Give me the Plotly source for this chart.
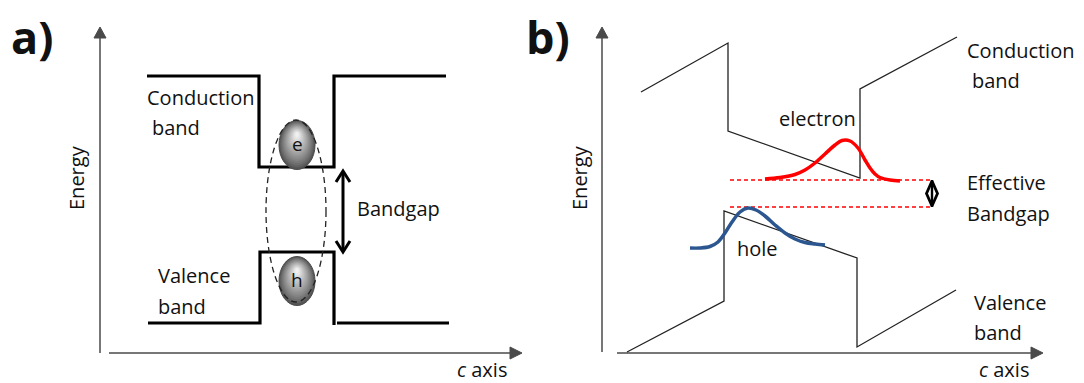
import plotly.graph_objects as go

W, H = 1084, 383
FONT = "Open Sans"

# ---- panel a: square quantum well (drawing units, y grows downward) ----
cb_a_x = [147, 259, 259, 334, 334, 446]
cb_a_y = [76, 76, 167, 167, 76, 76]
vb_a_left_x = [148, 260, 260, 334, 334]
vb_a_left_y = [323, 323, 252, 252, 325]
vb_a_right_x = [337, 449]
vb_a_right_y = [323, 323]

# carriers: centre x, centre y, half-width, half-height, label
carrier_x = [297, 297]
carrier_y = [145, 281]
carrier_rx = [18, 18]
carrier_ry = [24.5, 24.5]
carrier_lbl = ["e", "h"]

# exciton envelope
exc_cx, exc_cy, exc_rx, exc_ry = 296, 211, 30, 91

# bandgap arrow
gap_x = 343
gap_top, gap_bot = 171, 252

# ---- panel b: polarisation-tilted well ----
cb_b_x = [641, 728, 728, 860, 860, 957]
cb_b_y = [92, 43, 131, 178, 89, 37]
vb_b_x = [627, 724, 724, 857, 857, 956]
vb_b_y = [352, 301, 211, 258, 347, 290]

electron_x = [765, 780, 795, 805, 815, 825, 835, 842, 850, 858, 865, 870, 875, 880, 890, 900]
electron_y = [179, 177.5, 174.5, 170, 163, 154, 145, 140.5, 141, 148, 160, 168, 174, 177.5, 180, 181]
hole_x = [690, 700, 710, 718, 725, 732, 740, 748, 756, 765, 775, 785, 795, 805, 815, 825]
hole_y = [248, 248, 246.5, 242, 233, 222, 212, 208, 210, 216, 225, 233, 239, 242.5, 244, 245]

eff_levels = [180, 207]
eff_x = [730, 933]
eff_arrow_x = 932

# axes: (y-axis x, y-axis top tip, y-axis bottom, x-axis y, x-axis start, x-axis tip)
axes = [
    (100, 27, 353, 353, 109, 522),
    (602, 27, 352, 353, 617, 1043),
]

# text labels: (x, y, text, size, bold, anchor)
labels = [
    (10, 36, "a)", 45, True, "left"),
    (525, 36, "b)", 45, True, "left"),
    (146, 97, "Conduction", 20, False, "left"),
    (151, 127, "band", 20, False, "left"),
    (157, 275, "Valence", 20, False, "left"),
    (157, 306, "band", 20, False, "left"),
    (356, 208, "Bandgap", 20, False, "left"),
    (456, 369, "<i>c</i> axis", 20, False, "left"),
    (966, 50, "Conduction", 20, False, "left"),
    (971, 80, "band", 20, False, "left"),
    (778, 118, "electron", 20, False, "left"),
    (736, 248, "hole", 20, False, "left"),
    (966, 182, "Effective", 20, False, "left"),
    (966, 213, "Bandgap", 20, False, "left"),
    (973, 302, "Valence", 20, False, "left"),
    (973, 332, "band", 20, False, "left"),
    (978, 369, "<i>c</i> axis", 20, False, "left"),
]
energy_pos = [(76, 178), (579, 178)]

fig = go.Figure()


def line(x, y, color="black", width=1.3, dash=None, shape="linear"):
    fig.add_trace(go.Scatter(
        x=x, y=y, mode="lines", hoverinfo="skip", showlegend=False,
        line=dict(color=color, width=width, dash=dash, shape=shape),
    ))


def poly(x, y, color):
    fig.add_trace(go.Scatter(
        x=x, y=y, mode="lines", fill="toself", fillcolor=color,
        hoverinfo="skip", showlegend=False, line=dict(color=color, width=1),
    ))


# coordinate axes with arrowheads
AX = "#4a4a4a"
for yx, ytip, ybot, xy, xstart, xtip in axes:
    line([yx, yx], [ybot, ytip + 10], color=AX, width=1.5)
    poly([yx - 6, yx, yx + 6, yx - 6], [ytip + 11, ytip, ytip + 11, ytip + 11], AX)
    line([xstart, xtip - 10], [xy, xy], color=AX, width=1.5)
    poly([xtip - 12, xtip, xtip - 12, xtip - 12], [xy - 6, xy, xy + 6, xy - 6], AX)

# panel a band edges
line(cb_a_x, cb_a_y, width=3.2)
line(vb_a_left_x, vb_a_left_y, width=3.2)
line(vb_a_right_x, vb_a_right_y, width=3.2)

# bandgap double arrow
line([gap_x, gap_x], [gap_top + 2, gap_bot - 2], width=3)
line([gap_x - 7, gap_x, gap_x + 7], [gap_top + 11, gap_top, gap_top + 11], width=3)
line([gap_x - 7, gap_x, gap_x + 7], [gap_bot - 11, gap_bot, gap_bot - 11], width=3)

# panel b band edges
line(cb_b_x, cb_b_y, color="#222222", width=1.3)
line(vb_b_x, vb_b_y, color="#222222", width=1.3)

# effective bandgap levels
for lv in eff_levels:
    line(eff_x, [lv, lv], color="#ff0000", width=1.3, dash="4px,3px")

# effective bandgap marker (diamond with stem)
ya, yb = eff_levels
ym = (ya + yb) / 2
line([eff_arrow_x, eff_arrow_x], [ya, yb], width=2.4)
line([eff_arrow_x, eff_arrow_x - 5.5, eff_arrow_x, eff_arrow_x + 5.5, eff_arrow_x],
     [ya + 1, ym, yb - 1, ym, ya + 1], width=2.8)

# carrier wavefunctions
line(electron_x, electron_y, color="#ff0000", width=3.5, shape="spline")
line(hole_x, hole_y, color="#2b568f", width=3.5, shape="spline")

# shaded carrier spheres
shapes = []
N = 16
for cx, cy, rx, ry in zip(carrier_x, carrier_y, carrier_rx, carrier_ry):
    for i in range(N):
        t = i / (N - 1)
        k = 1 - 0.9 * t
        ccx = cx
        ccy = cy - 0.42 * ry * t
        g = int(85 + (240 - 85) * (t ** 0.9))
        shapes.append(dict(
            type="circle", xref="x", yref="y", layer="above",
            x0=ccx - rx * k, x1=ccx + rx * k, y0=ccy - ry * k, y1=ccy + ry * k,
            fillcolor=f"rgb({g},{g},{g})", line=dict(width=0),
        ))
    shapes.append(dict(
        type="circle", xref="x", yref="y", layer="above",
        x0=cx - rx, x1=cx + rx, y0=cy - ry, y1=cy + ry,
        fillcolor="rgba(0,0,0,0)", line=dict(color="#4a4a4a", width=1),
    ))

# exciton envelope
shapes.append(dict(
    type="circle", xref="x", yref="y", layer="above",
    x0=exc_cx - exc_rx, x1=exc_cx + exc_rx, y0=exc_cy - exc_ry, y1=exc_cy + exc_ry,
    line=dict(color="#222222", width=1.3, dash="6px,4px"), fillcolor="rgba(0,0,0,0)",
))

annotations = []
for x, y, txt, size, bold, anchor in labels:
    annotations.append(dict(
        x=x, y=y, xref="x", yref="y", text=f"<b>{txt}</b>" if bold else txt,
        showarrow=False, xanchor=anchor, yanchor="middle", borderpad=0,
        font=dict(family=FONT, size=size, color="#111111"),
    ))
for x, y in energy_pos:
    annotations.append(dict(
        x=x, y=y, xref="x", yref="y", text="Energy", textangle=-90,
        showarrow=False, xanchor="center", yanchor="middle",
        font=dict(family=FONT, size=20, color="#111111"),
    ))
for cx, cy, lbl in zip(carrier_x, carrier_y, carrier_lbl):
    annotations.append(dict(
        x=cx, y=cy - 1, xref="x", yref="y", text=lbl, showarrow=False,
        xanchor="center", yanchor="middle",
        font=dict(family=FONT, size=19, color="#111111"),
    ))

fig.update_layout(
    width=W, height=H,
    margin=dict(l=0, r=0, t=0, b=0, pad=0),
    paper_bgcolor="white", plot_bgcolor="white",
    xaxis=dict(range=[0, W], visible=False, fixedrange=True),
    yaxis=dict(range=[H, 0], visible=False, fixedrange=True),
    shapes=shapes, annotations=annotations, showlegend=False,
)

fig.write_html("out.html")
